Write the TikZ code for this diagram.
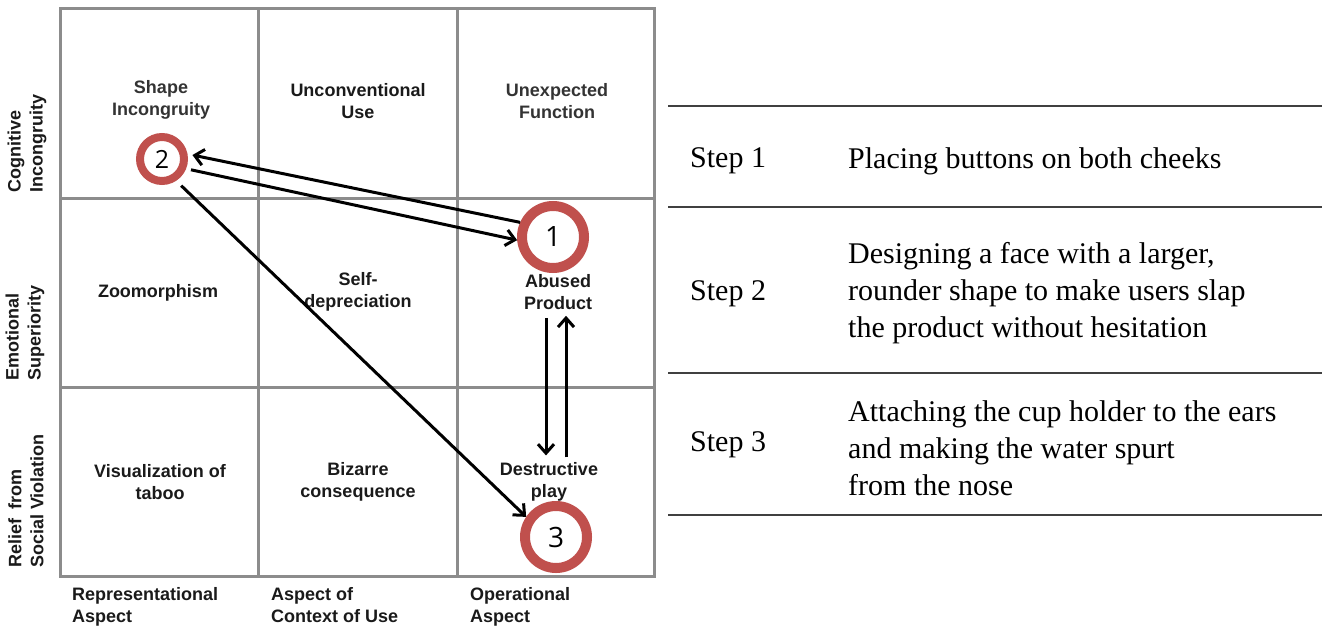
\documentclass[tikz,border=0pt]{standalone}
\usepackage{fontspec}
\setmainfont{Liberation Serif}
\newfontfamily\lab{Liberation Sans}
\newfontfamily\numf{Open Sans}
\usetikzlibrary{arrows.meta}
\definecolor{gridgray}{HTML}{8C8C8C}
\definecolor{ringred}{HTML}{C0504D}
\definecolor{txt}{HTML}{1A1A1A}
\tikzset{
  cell/.style={font=\lab\bfseries\fontsize{18}{22}\selectfont, text=txt, align=center, inner sep=0},
  rowlab/.style={font=\lab\bfseries\fontsize{18}{22}\selectfont, text=txt, align=left, rotate=90, anchor=west, inner sep=0},
  collab/.style={font=\lab\bfseries\fontsize{18}{22}\selectfont, text=txt, align=left, anchor=north west, inner sep=0},
  bigring/.style={circle, draw=ringred, line width=10pt, minimum size=62pt, inner sep=0, font=\numf\fontsize{28}{30}\selectfont, text=black},
  smallring/.style={circle, draw=ringred, line width=8pt, minimum size=44pt, inner sep=0, font=\numf\fontsize{25}{28}\selectfont, text=black},
  arr/.style={draw=black, line width=3pt, -{Straight Barb[length=9pt, width=16pt, line width=3pt]}},
  steplab/.style={font=\fontsize{30}{37}\selectfont, anchor=west, inner sep=0},
  stepdesc/.style={font=\fontsize{30}{37}\selectfont, anchor=west, align=left, inner sep=0},
  rule/.style={draw=black!75, line width=1.2pt}
}
\begin{document}
\begin{tikzpicture}[x=1pt, y=-1pt]
\useasboundingbox (0,0) rectangle (1324,626);
% grid
\draw[gridgray, line width=3pt] (60,9) rectangle (654,576);
\draw[gridgray, line width=3pt] (258,9) -- (258,576) (457,9) -- (457,576) (60,198) -- (654,198) (60,387) -- (654,387);
% cell labels
\node[cell, text=black!80] (shape) at (161,100) {Shape\\Incongruity};
\node[cell] (uncon) at (358,101) {Unconventional\\Use};
\node[cell, text=black!80] (unexp) at (557,101) {Unexpected\\Function};
\node[cell] (zoo) at (158,293) {Zoomorphism};
\node[cell] (self) at (358,292) {Self-\\depreciation};
\node[cell] (abused) at (558,292) {Abused\\Product};
\node[cell] (vis) at (160,482) {Visualization of\\taboo};
\node[cell] (biz) at (358,482) {Bizarre\\consequence};
\node[cell] (destr) at (549,482) {Destructive\\play};
% row labels
\node[rowlab] (rcog) at (27,193) {Cognitive\\Incongruity};
\node[rowlab] (remo) at (25,381) {Emotional\\Superiority};
\node[rowlab] (rrel) at (26,568) {Relief\hspace{0.25em} from\\Social Violation};
% column labels
\node[collab] (crep) at (72,587) {Representational\\Aspect};
\node[collab] (cctx) at (271,587) {Aspect of\\Context of Use};
\node[collab] (cop) at (470,587) {Operational\\Aspect};
% rings
\node[bigring] (c1) at (553,237) {1};
\node[smallring] (c2) at (162,159) {2};
\node[bigring] (c3) at (556,537) {3};
% arrows
\draw[arr, shorten >=5pt] (c1.156) -- (c2.11);
\draw[arr, shorten <=5pt] (c2.-22) -- (c1.185);
\draw[arr, shorten <=7pt] (c2.-57) -- (c3.146);
\draw[arr] ([xshift=-12pt,yshift=-8pt]abused.south) -- ([xshift=-3pt,yshift=7pt]destr.north);
\draw[arr] ([xshift=17pt,yshift=5pt]destr.north) -- ([xshift=8pt,yshift=-6pt]abused.south);
% right table
\coordinate (tl0) at (668,106); \coordinate (tr0) at (1322,106);
\coordinate (tl1) at (668,207); \coordinate (tr1) at (1322,207);
\coordinate (tl2) at (668,373); \coordinate (tr2) at (1322,373);
\coordinate (tl3) at (668,515); \coordinate (tr3) at (1322,515);
\draw[rule] (tl0) -- (tr0);
\draw[rule] (tl1) -- (tr1);
\draw[rule] (tl2) -- (tr2);
\draw[rule] (tl3) -- (tr3);
\node[steplab] (s1) at (690,161) {Step 1};
\node[stepdesc] (d1) at (848,161) {Placing buttons on both cheeks};
\node[steplab] (s2) at (690,294) {Step 2};
\node[stepdesc] (d2) at (848,293) {Designing a face with a larger,\\rounder shape to make users slap\\the product without hesitation};
\node[steplab] (s3) at (690,445) {Step 3};
\node[stepdesc] (d3) at (848,448) {Attaching the cup holder to the ears\\and making the water spurt\\from the nose};
\end{tikzpicture}
\end{document}
